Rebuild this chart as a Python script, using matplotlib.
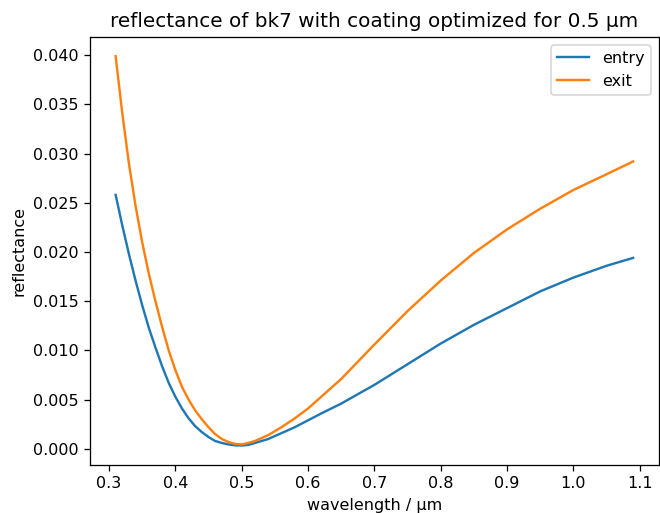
import matplotlib
matplotlib.use('Agg')
import matplotlib.pyplot as plt

# values
wavelength = [0.31, 0.32, 0.33, 0.34, 0.35, 0.36, 0.37, 0.38, 0.39, 0.40,
              0.41, 0.42, 0.43, 0.44, 0.45, 0.46, 0.47, 0.48, 0.49, 0.50,
              0.51, 0.52, 0.53, 0.54, 0.56, 0.58, 0.60, 0.62, 0.65, 0.70,
              0.75, 0.80, 0.85, 0.90, 0.95, 1.00, 1.05, 1.09]
entry = [0.0258, 0.0227, 0.0198, 0.0171, 0.0146, 0.0123, 0.0103, 0.0084, 0.0067, 0.0053,
         0.0041, 0.0031, 0.0023, 0.0017, 0.0012, 0.0008, 0.0006, 0.00045, 0.00036, 0.00034,
         0.0004, 0.0006, 0.0008, 0.0010, 0.0016, 0.0022, 0.0029, 0.0036, 0.0046, 0.0065,
         0.0086, 0.0107, 0.0126, 0.0143, 0.0160, 0.0174, 0.0186, 0.0194]
exit_ = [0.0399, 0.0341, 0.0290, 0.0247, 0.0210, 0.0178, 0.0150, 0.0124, 0.0100, 0.0080,
         0.0063, 0.0050, 0.0039, 0.0030, 0.0022, 0.0015, 0.0010, 0.0007, 0.0005, 0.00045,
         0.0006, 0.0008, 0.0011, 0.0014, 0.0022, 0.0031, 0.0041, 0.0053, 0.0071, 0.0106,
         0.0140, 0.0171, 0.0199, 0.0223, 0.0244, 0.0263, 0.0279, 0.0292]

DPI = 115
fig = plt.figure(figsize=(660 / DPI, 513 / DPI), dpi=DPI)
ax = fig.add_axes([0.136, 0.0936, 0.8625, 0.835])
ax.plot(wavelength, entry, label='entry')
ax.plot(wavelength, exit_, label='exit')
ax.set_title('reflectance of bk7 with coating optimized for 0.5 µm', fontsize=12.5)
ax.set_xlabel('wavelength / µm')
ax.set_ylabel('reflectance')
ax.legend(loc='upper right')

plt.savefig('out.png', dpi=DPI)
